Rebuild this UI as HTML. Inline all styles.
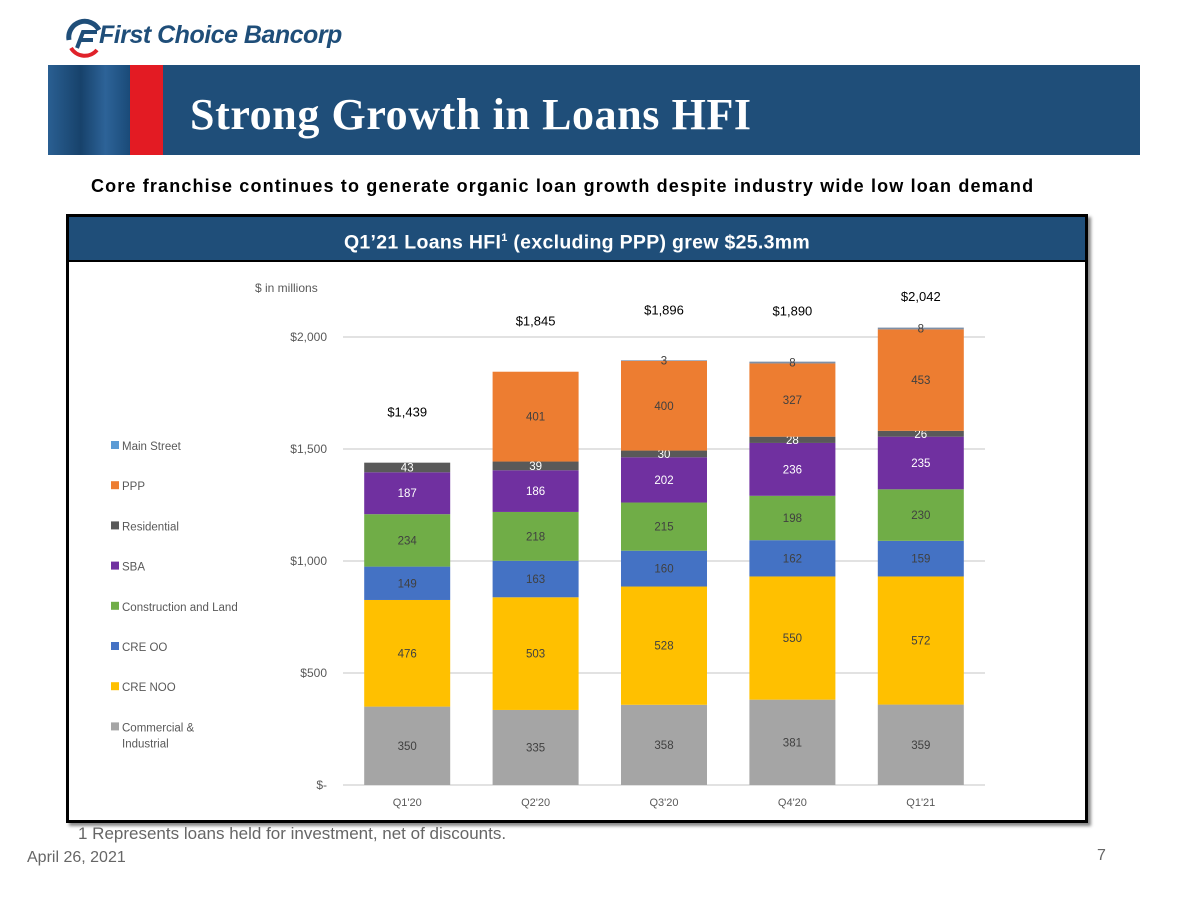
<!DOCTYPE html>
<html><head><meta charset="utf-8"><style>
body{margin:0;width:1197px;height:898px;background:#fff;position:relative;overflow:hidden;font-family:"Liberation Sans",sans-serif}
.abs{position:absolute}
</style></head><body>
<div class="abs" style="left:63px;top:18px;width:290px;height:40px">
<svg width="40" height="40" style="position:absolute;left:0;top:0"><path d="M6 22 A16 16 0 0 1 36 12" stroke="#1f4e79" stroke-width="5" fill="none"/><path d="M8 30 A16 16 0 0 0 34 32" stroke="#e0222a" stroke-width="4" fill="none"/><path d="M14 30 L20 14 L34 14 M18 22 L30 22" stroke="#1f4e79" stroke-width="4" fill="none"/></svg>
<div class="abs" style="left:36px;top:3px;font:italic bold 25px 'Liberation Sans',sans-serif;color:#1f4e79;letter-spacing:-0.5px;white-space:nowrap">First Choice Bancorp</div>
</div>
<div class="abs" style="left:48px;top:65px;width:1092px;height:90px;background:#1f4e79">
<div class="abs" style="left:0;top:0;width:82px;height:90px;background:linear-gradient(90deg,#2a5f92,#17426b 40%,#2d6398 70%,#1a4a78)"></div>
<div class="abs" style="left:82px;top:0;width:33px;height:90px;background:#e31b23"></div>
<div class="abs" style="left:142px;top:24px;font:bold 44px 'Liberation Serif',serif;color:#fff;letter-spacing:0.6px;white-space:nowrap">Strong Growth in Loans HFI</div>
</div>
<div class="abs" style="left:91px;top:176px;font:bold 18px 'Liberation Sans',sans-serif;color:#000;letter-spacing:1.15px;white-space:nowrap">Core franchise continues to generate organic loan growth despite industry wide low loan demand</div>
<div class="abs" style="left:66px;top:214px;width:1016px;height:603px;border:3px solid #000;box-shadow:3px 3px 3px #888"></div>
<div class="abs" style="left:69px;top:217px;width:1016px;height:43px;background:#1f4e79;border-bottom:2px solid #000;color:#fff;font:bold 19.5px 'Liberation Sans',sans-serif;text-align:center;line-height:43px;white-space:nowrap;letter-spacing:0.3px">Q1’21 Loans HFI<sup style="font-size:11px">1</sup> (excluding PPP) grew $25.3mm</div>
<svg class="abs" style="left:0;top:0" width="1197" height="898" id="chart"></svg>
<div class="abs" style="left:78px;top:824px;font-size:17px;color:#666;white-space:nowrap">1  Represents loans held for investment, net of discounts.</div>
<div class="abs" style="left:27px;top:849px;font-size:16px;color:#666">April 26, 2021</div>
<div class="abs" style="left:1097px;top:847px;font-size:16px;color:#666">7</div>
<script>
const categories=["Q1'20","Q2'20","Q3'20","Q4'20","Q1'21"];
const seriesNames=["Commercial & Industrial","CRE NOO","CRE OO","Construction and Land","SBA","Residential","PPP","Main Street"];
const seriesColors=["#a5a5a5","#ffc000","#4472c4","#70ad47","#7030a0","#595959","#ed7d31","#7f8fa6"];
const legendColors=["#a5a5a5","#ffc000","#4472c4","#70ad47","#7030a0","#595959","#ed7d31","#5b9bd5"];
const cni=[350,335,358,381,359];
const creNoo=[476,503,528,550,572];
const creOo=[149,163,160,162,159];
const construction=[234,218,215,198,230];
const sba=[187,186,202,236,235];
const residential=[43,39,30,28,26];
const ppp=[0,401,400,327,453];
const mainStreet=[0,0,3,8,8];
const totals=["$1,439","$1,845","$1,896","$1,890","$2,042"];
const yTicks=[0,500,1000,1500,2000];
const yTickLabels=["$-","$500","$1,000","$1,500","$2,000"];
const series=[cni,creNoo,creOo,construction,sba,residential,ppp,mainStreet];
const svg=document.getElementById('chart');
const NS='http://www.w3.org/2000/svg';
const y0=785,y1=337,xL=343,xR=985;
function y(v){return y0-(v/2000)*(y0-y1);}
const band=(xR-xL)/categories.length;
function xc(i){return xL+band*(i+0.5);}
const bw=86;
function mk(t,a,txt){const e=document.createElementNS(NS,t);for(const k in a)e.setAttribute(k,a[k]);if(txt!==undefined)e.textContent=txt;svg.appendChild(e);return e;}
yTicks.forEach((v,i)=>{
 const l=mk('line',{x1:xL,x2:xR,y1:y(v),y2:y(v),stroke:'#d9d9d9','stroke-width':1.5});
 
 
 const t=mk('text',{x:327,y:y(v)+4,'text-anchor':'end','font-size':12,fill:'#595959','font-family':'Liberation Sans'},yTickLabels[i]);
 
 
});
const u=mk('text',{x:255,y:292,'font-size':12,fill:'#595959','font-family':'Liberation Sans'},'$ in millions');


categories.forEach((c,i)=>{
 let acc=0;
 series.forEach((s,k)=>{
  const v=s[i]; if(!v)return;
  const top=y(acc+v),bot=y(acc);
  const r=mk('rect',{x:xc(i)-bw/2,y:top,width:bw,height:bot-top,fill:seriesColors[k]});
  
  
  const light=(k==4||k==5);
  const t=mk('text',{x:xc(i),y:(top+bot)/2+4,'text-anchor':'middle','font-size':11.5,fill:light?'#fff':'#404040','font-family':'Liberation Sans'},String(v));
  
  
  acc+=v;
 });
 const tl=mk('text',{x:xc(i),y:Math.max(301,y(acc)-46),'text-anchor':'middle','font-size':13,fill:'#000','font-family':'Liberation Sans'},totals[i]);
 
 
 const xl=mk('text',{x:xc(i),y:806,'text-anchor':'middle','font-size':11,fill:'#595959','font-family':'Liberation Sans'},c);
 
 
});
const legendOrder=[7,6,5,4,3,2,1,0];
legendOrder.forEach((k,j)=>{
 const yy=446+j*40.2;
 const r=mk('rect',{x:111,y:yy-5,width:8,height:8,fill:legendColors[k]});
 
 
 const lines=k==0?["Commercial &","Industrial"]:[seriesNames[k]];
 lines.forEach((ln,m)=>{
  const t=mk('text',{x:122,y:yy+4+m*16,'font-size':11.5,fill:'#595959','font-family':'Liberation Sans'},ln);
  
  
 });
});
</script>
</body></html>
